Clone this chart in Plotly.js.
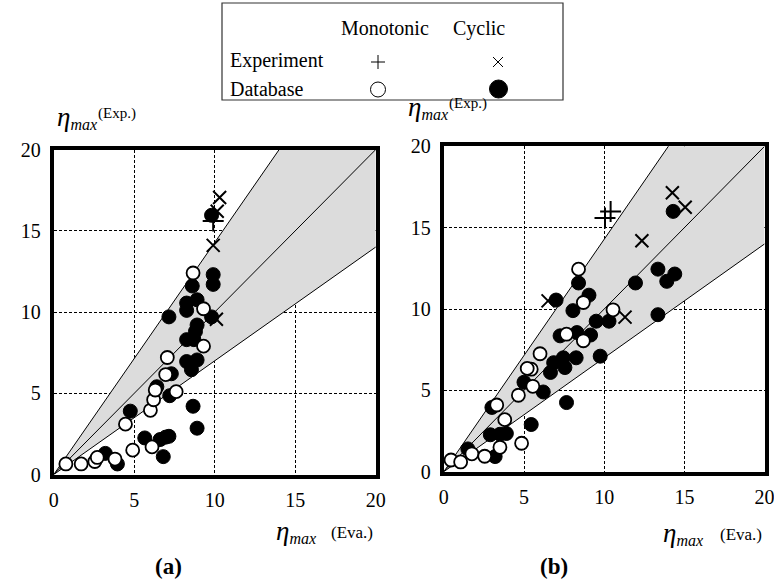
<!DOCTYPE html>
<html>
<head>
<meta charset="utf-8">
<script src="https://cdn.plot.ly/plotly-3.0.1.min.js"></script>
<style>
  html, body { margin: 0; padding: 0; background: #fff; }
  #chart { width: 774px; height: 588px; }
</style>
</head>
<body>
<div id="chart"></div>
<script>
// ---- (a) values: evaluated vs experimental eta_max ----
const aMonoX = [0.75, 1.7, 2.55, 2.7, 3.8, 4.9, 6.1, 4.45, 6.0, 6.2, 6.3, 7.6, 6.95, 7.05, 9.3, 9.3, 8.65];
const aMonoY = [0.65, 0.65, 0.8, 1.05, 0.95, 1.5, 1.7, 3.1, 3.95, 4.6, 5.2, 5.1, 6.15, 7.2, 7.9, 10.2, 12.4];
const aCycX = [3.95, 3.2, 6.8, 5.65, 6.6, 6.95, 7.15, 8.9, 8.65, 4.75, 7.2, 6.4, 7.3, 8.55, 8.25, 8.9,
               8.25, 8.7, 8.8, 8.9, 9.8, 7.15, 8.25, 8.25, 8.9, 8.6, 9.9, 9.9, 9.8];
const aCycY = [0.65, 1.3, 1.1, 2.25, 2.15, 2.3, 2.35, 2.85, 4.2, 3.9, 4.85, 5.4, 6.2, 6.45, 6.95, 7.05,
               8.3, 8.3, 8.8, 9.2, 9.7, 9.7, 10.1, 10.55, 10.75, 11.6, 11.7, 12.3, 15.95];
const aExpMonoX = [9.9];
const aExpMonoY = [15.6];
const aExpCycX = [10.3, 10.15, 9.9, 10.1];
const aExpCycY = [17.05, 16.2, 14.1, 9.55];

// ---- (b) values ----
const bMonoX = [0.45, 1.05, 1.75, 2.55, 3.5, 4.85, 3.8, 3.3, 4.65, 5.55, 5.45, 5.2, 6.0, 7.65, 8.7, 8.7, 10.55, 8.4];
const bMonoY = [0.72, 0.6, 1.1, 0.95, 1.5, 1.75, 3.2, 4.1, 4.7, 5.25, 6.3, 6.35, 7.25, 8.45, 8.05, 10.4, 9.95, 12.45];
const bCycX = [1.5, 3.2, 2.9, 3.5, 3.9, 3.0, 5.45, 7.65, 6.2, 5.0, 6.65, 6.85, 7.45, 7.55, 8.25, 9.75,
               7.25, 8.3, 9.15, 8.05, 9.5, 10.3, 7.0, 9.05, 8.4, 11.95, 13.35, 14.4, 13.9, 13.35, 14.3];
const bCycY = [1.4, 0.93, 2.27, 2.3, 2.35, 3.95, 2.9, 4.25, 4.9, 5.5, 6.1, 6.7, 7.0, 6.4, 7.0, 7.1,
               8.35, 8.55, 8.4, 9.9, 9.25, 9.25, 10.55, 10.85, 11.6, 11.6, 12.45, 12.15, 11.7, 9.65, 16.0];
const bExpMonoX = [10.05, 10.4];
const bExpMonoY = [15.6, 16.0];
const bExpCycX = [14.25, 15.05, 12.35, 11.3, 6.5];
const bExpCycY = [17.15, 16.25, 14.2, 9.5, 10.5];

// accuracy band: y = x * ratio
const bandLow = 0.7;
const bandHigh = 1 / 0.7;
const axisMax = 20;
const tickVals = [0, 5, 10, 15, 20];
const tickText = ['0', '5', '10', '15', '20'];

const W = 774, H = 588;
const px = v => v / W;
const py = v => 1 - v / H;
const SERIF = "'Liberation Serif', 'Times New Roman', serif";

function panelTraces(xa, ya, monoX, monoY, cycX, cycY, eMonoX, eMonoY, eCycX, eCycY) {
  const bandX = [0, axisMax, axisMax, 0];
  const bandY = [0, axisMax * bandHigh, axisMax * bandLow, 0];
  const ln = {color: '#000', width: 1};
  const base = {xaxis: xa, yaxis: ya, showlegend: false, hoverinfo: 'skip'};
  return [
    Object.assign({type: 'scatter', mode: 'lines', x: bandX, y: bandY, fill: 'toself',
      fillcolor: '#dcdcdc', line: {width: 0}}, base),
    Object.assign({type: 'scatter', mode: 'lines', x: [0, axisMax], y: [0, axisMax * bandHigh], line: ln}, base),
    Object.assign({type: 'scatter', mode: 'lines', x: [0, axisMax], y: [0, axisMax], line: ln}, base),
    Object.assign({type: 'scatter', mode: 'lines', x: [0, axisMax], y: [0, axisMax * bandLow], line: ln}, base),
    Object.assign({type: 'scatter', mode: 'markers', x: cycX, y: cycY,
      marker: {symbol: 'circle', size: 14, color: '#000', line: {color: '#000', width: 1}}}, base),
    Object.assign({type: 'scatter', mode: 'markers', x: monoX, y: monoY,
      marker: {symbol: 'circle', size: 13, color: '#fff', line: {color: '#000', width: 1.8}}}, base),
    Object.assign({type: 'scatter', mode: 'markers', x: eMonoX, y: eMonoY,
      marker: {symbol: 'cross-thin', size: 15, line: {color: '#000', width: 2}}}, base),
    Object.assign({type: 'scatter', mode: 'markers', x: eCycX, y: eCycY,
      marker: {symbol: 'x-thin', size: 13, line: {color: '#000', width: 2}}}, base)
  ];
}

const data = [].concat(
  panelTraces('x', 'y', aMonoX, aMonoY, aCycX, aCycY, aExpMonoX, aExpMonoY, aExpCycX, aExpCycY),
  panelTraces('x2', 'y2', bMonoX, bMonoY, bCycX, bCycY, bExpMonoX, bExpMonoY, bExpCycX, bExpCycY)
);

function axis(domain, anchor, standoff) {
  return {
    domain: domain, anchor: anchor, range: [0, axisMax],
    tickvals: tickVals, ticktext: tickText, ticks: '', ticklabelstandoff: standoff,
    ticklabeloverflow: 'allow',
    showgrid: true, gridcolor: '#000', gridwidth: 1, griddash: '3px,2px',
    showline: true, linecolor: '#000', linewidth: 4, mirror: true,
    zeroline: false, fixedrange: true,
    tickfont: {family: SERIF, size: 20, color: '#000'}
  };
}

function eta() {
  return '<span style="font-size:27px"><i>η</i></span>' +
         '<sub><span style="font-size:16px"><i>max</i></span></sub>';
}

const unitFont = size => ({family: SERIF, size: size, color: '#000'});

const annotations = [
  // vertical axis titles
  {x: px(55), y: py(117), xanchor: 'left', yanchor: 'middle', text: eta()},
  {x: px(96), y: py(113), xanchor: 'left', yanchor: 'middle', text: '(Exp.)', font: unitFont(15)},
  {x: px(406), y: py(108), xanchor: 'left', yanchor: 'middle', text: eta()},
  {x: px(447), y: py(104), xanchor: 'left', yanchor: 'middle', text: '(Exp.)', font: unitFont(15)},
  // horizontal axis titles
  {x: px(318), y: py(531), xanchor: 'right', yanchor: 'middle', text: eta()},
  {x: px(375), y: py(532), xanchor: 'right', yanchor: 'middle', text: '(Eva.)', font: unitFont(17)},
  {x: px(705), y: py(533), xanchor: 'right', yanchor: 'middle', text: eta()},
  {x: px(764), y: py(534), xanchor: 'right', yanchor: 'middle', text: '(Eva.)', font: unitFont(17)},
  // panel labels
  {x: px(168), y: py(566), xanchor: 'center', yanchor: 'middle', text: '<b>(a)</b>', font: unitFont(23)},
  {x: px(554), y: py(566), xanchor: 'center', yanchor: 'middle', text: '<b>(b)</b>', font: unitFont(23)},
  // legend box text
  {x: px(385), y: py(28), xanchor: 'center', yanchor: 'middle', text: 'Monotonic'},
  {x: px(479), y: py(28), xanchor: 'center', yanchor: 'middle', text: 'Cyclic'},
  {x: px(228), y: py(61), xanchor: 'left', yanchor: 'middle', text: 'Experiment'},
  {x: px(228), y: py(89), xanchor: 'left', yanchor: 'middle', text: 'Database'}
].map(a => Object.assign({xref: 'paper', yref: 'paper', showarrow: false,
  font: unitFont(20)}, a));

const shapes = [
  // legend frame
  {type: 'rect', xref: 'paper', yref: 'paper', x0: px(222), x1: px(563), y0: py(100), y1: py(3),
   line: {color: '#333', width: 1.2}, fillcolor: 'rgba(0,0,0,0)'},
  // legend symbols: plus, cross, open circle, filled circle
  {type: 'line', xref: 'paper', yref: 'paper', x0: px(371), x1: px(385), y0: py(62), y1: py(62), line: {color: '#000', width: 1}},
  {type: 'line', xref: 'paper', yref: 'paper', x0: px(378), x1: px(378), y0: py(55), y1: py(69), line: {color: '#000', width: 1}},
  {type: 'line', xref: 'paper', yref: 'paper', x0: px(493), x1: px(503), y0: py(57), y1: py(67), line: {color: '#000', width: 1}},
  {type: 'line', xref: 'paper', yref: 'paper', x0: px(493), x1: px(503), y0: py(67), y1: py(57), line: {color: '#000', width: 1}},
  {type: 'circle', xref: 'paper', yref: 'paper', x0: px(370.5), x1: px(385.5), y0: py(97), y1: py(82),
   line: {color: '#000', width: 1}, fillcolor: '#fff'},
  {type: 'circle', xref: 'paper', yref: 'paper', x0: px(489.5), x1: px(507.5), y0: py(98), y1: py(80),
   line: {color: '#000', width: 1}, fillcolor: '#000'}
];

const layout = {
  width: W, height: H,
  margin: {l: 0, r: 0, t: 0, b: 0},
  paper_bgcolor: '#fff', plot_bgcolor: '#fff',
  showlegend: false,
  xaxis: axis([px(53.8), px(375.8)], 'y', 4),
  yaxis: axis([py(474.5), py(149.5)], 'x', 5),
  xaxis2: axis([px(443.8), px(764.6)], 'y2', 4),
  yaxis2: axis([py(471.7), py(146.3)], 'x2', 5),
  annotations: annotations,
  shapes: shapes
};

Plotly.newPlot('chart', data, layout, {staticPlot: true, displayModeBar: false});
</script>
</body>
</html>
